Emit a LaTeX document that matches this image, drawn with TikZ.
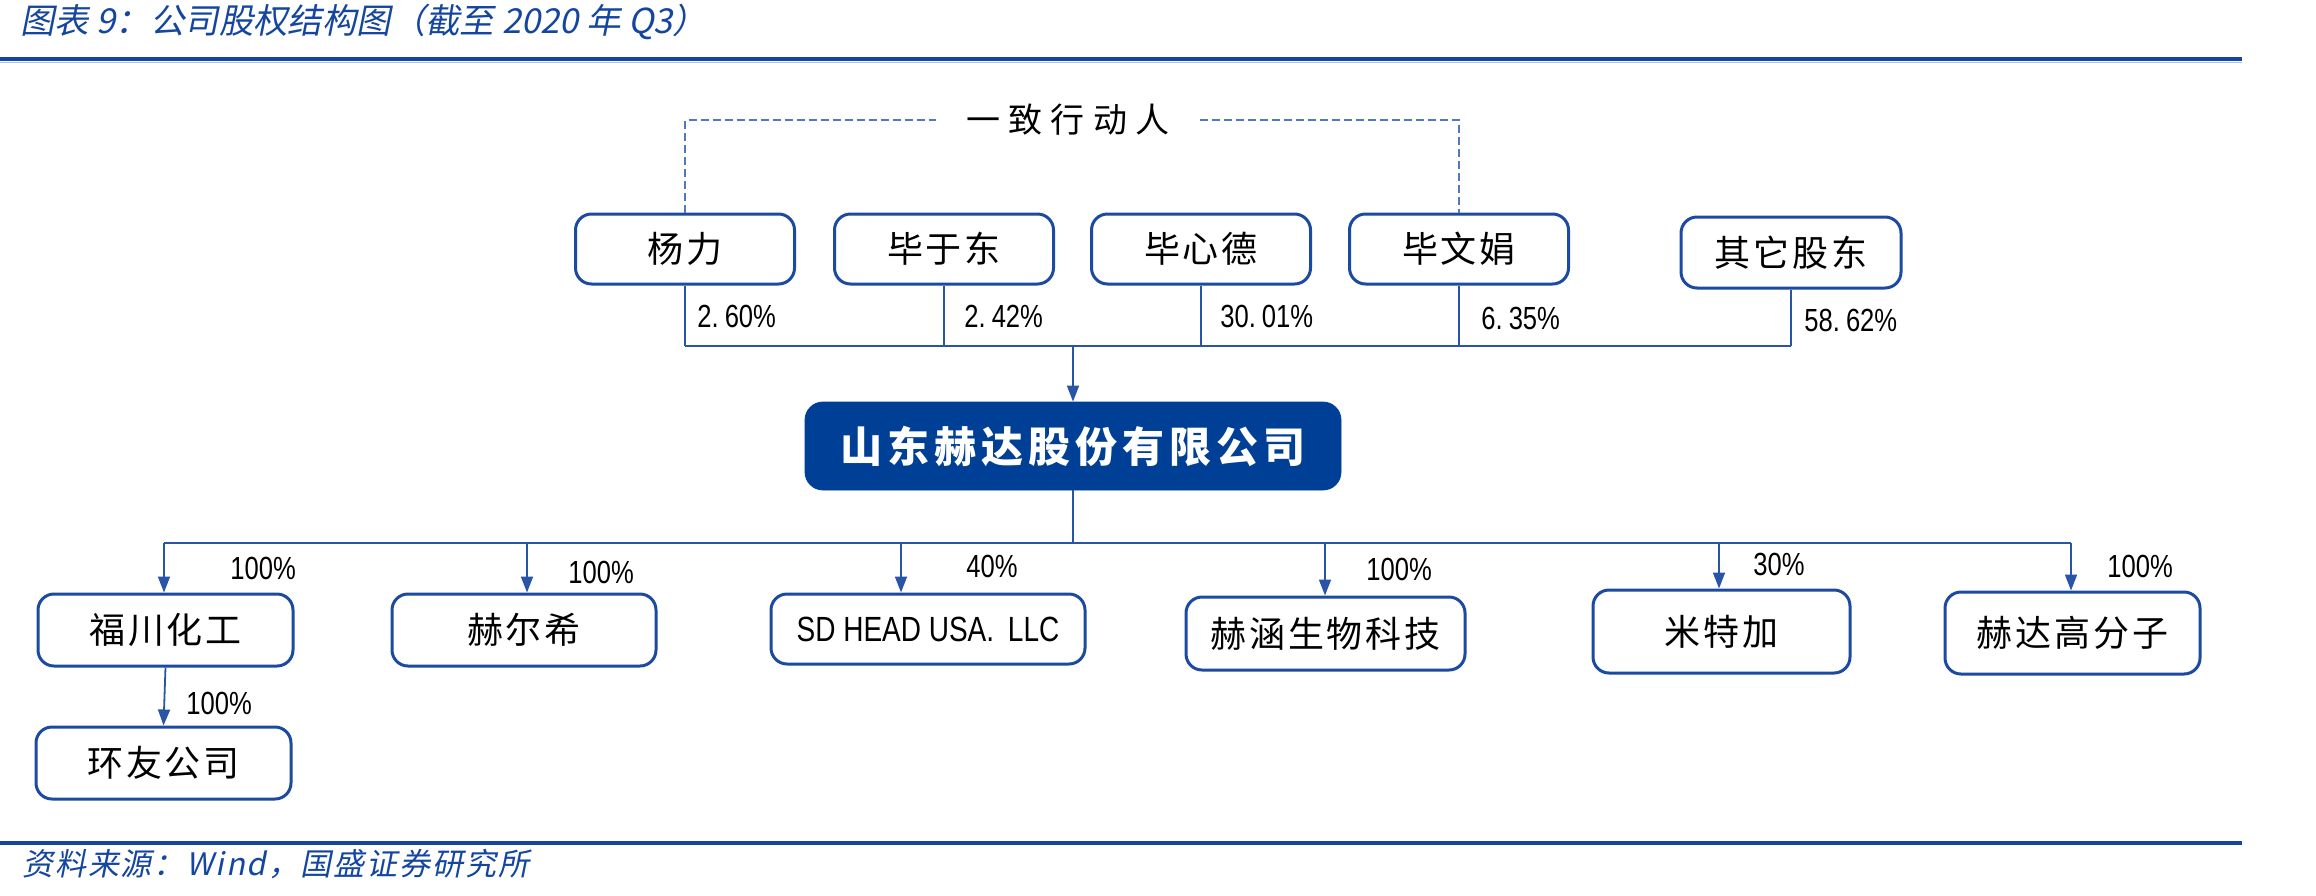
\documentclass[tikz,border=0pt]{standalone}
\usepackage{fontspec}
\setmainfont{Noto Sans CJK SC}
\newfontfamily\cjk[LetterSpace=8]{Noto Sans CJK SC}
\newfontfamily\cjkmain[LetterSpace=12]{Noto Sans CJK SC}
\newfontfamily\cjkgroup[LetterSpace=24]{Noto Sans CJK SC}
\newfontfamily\ttlfont[FakeSlant=0.2]{Noto Sans CJK SC}
\newfontfamily\srcfont[FakeSlant=0.2,LetterSpace=6]{Noto Sans CJK SC}
\newfontfamily\pctfont[FakeStretch=0.8]{Liberation Sans}
\usetikzlibrary{arrows.meta}
\definecolor{hdblue}{RGB}{0,63,150}
\definecolor{bordblue}{RGB}{28,74,160}
\definecolor{lineblue}{RGB}{40,85,165}
\definecolor{dashblue}{RGB}{80,120,195}
\definecolor{ruleblue}{RGB}{20,70,160}
\definecolor{rulelight}{RGB}{170,190,228}
\begin{document}
\begin{tikzpicture}[x=0.5pt,y=-0.5pt,
  box/.style={draw=bordblue, line width=1.5pt, rounded corners=8pt, fill=white,
    inner sep=0pt, align=center, font=\cjk\fontsize{18}{20}\selectfont},
  mainbox/.style={fill=hdblue, draw=hdblue, rounded corners=9pt, inner sep=0pt,
    text=white, font=\cjkmain\bfseries\fontsize{21}{24}\selectfont,
    minimum width=268pt, minimum height=44pt},
  conn/.style={draw=lineblue, line width=0.9pt},
  arr/.style={conn, -{Triangle[length=8pt,width=6pt]}},
  dashline/.style={draw=dashblue, line width=0.9pt, dash pattern=on 4pt off 2pt},
  pct/.style={font=\pctfont\fontsize{16}{18}\selectfont, inner sep=0pt, anchor=west},
  rulemain/.style={draw=ruleblue, line width=2pt},
  rulelite/.style={draw=rulelight, line width=0.6pt}
]
\useasboundingbox (0,0) rectangle (2316,895);

% header and footer
\node[anchor=west, inner sep=0pt, text=ruleblue, font=\ttlfont\fontsize{17.2}{19}\selectfont] (title) at (20,22) {图表 9：公司股权结构图（截至 2020 年 Q3）};
\coordinate (r1a) at (0,59); \coordinate (r1b) at (2242,59);
\coordinate (r1c) at (0,62.5); \coordinate (r1d) at (2242,62.5);
\draw[rulemain] (r1a) -- (r1b);
\draw[rulelite] (r1c) -- (r1d);
\coordinate (r2a) at (0,843); \coordinate (r2b) at (2242,843);
\draw[rulemain] (r2a) -- (r2b);
\node[anchor=west, inner sep=0pt, text=ruleblue, font=\srcfont\fontsize{15.5}{17}\selectfont] (src) at (22,864) {资料来源：Wind，国盛证券研究所};

% shareholders
\node[box, minimum width=109.5pt, minimum height=35pt] (yl) at (685,249) {杨力};
\node[box, minimum width=109.5pt, minimum height=35pt] (byd) at (944,249) {毕于东};
\node[box, minimum width=109.5pt, minimum height=35pt] (bxd) at (1201,249) {毕心德};
\node[box, minimum width=109.5pt, minimum height=35pt] (bwj) at (1459,249) {毕文娟};
\node[box, minimum width=110pt, minimum height=35.5pt] (qt) at (1791,252.5) {其它股东};

% concerted action group
\node[inner sep=0pt, minimum width=131.5pt, font=\cjkgroup\fontsize{17}{20}\selectfont] (grp) at (1068,120) {一致行动人};
\draw[dashline] (yl.north) |- (grp.west);
\draw[dashline] (grp.east) -| (bwj.north);

% main company
\node[mainbox] (main) at (1073,446) {山东赫达股份有限公司};

% upper bus
\coordinate (tbus) at (0,346);
\draw[conn] (yl.south) -- (yl.south |- tbus);
\draw[conn] (byd.south) -- (byd.south |- tbus);
\draw[conn] (bxd.south) -- (bxd.south |- tbus);
\draw[conn] (bwj.south) -- (bwj.south |- tbus);
\draw[conn] (qt.south) -- (qt.south |- tbus);
\draw[conn] (yl.south |- tbus) -- (qt.south |- tbus);
\draw[arr] (main.north |- tbus) -- (main.north);

\node[pct] (p1) at (697,316) {2.\kern3pt 60\%};
\node[pct] (p2) at (964,316) {2.\kern3pt 42\%};
\node[pct] (p3) at (1220,316) {30.\kern3pt 01\%};
\node[pct] (p4) at (1481,318) {6.\kern3pt 35\%};
\node[pct] (p5) at (1804,320) {58.\kern3pt 62\%};

% subsidiaries
\node[box, minimum width=127.5pt, minimum height=36pt] (c1) at (165.5,630) {福川化工};
\node[box, minimum width=132pt, minimum height=36pt] (c2) at (524,630) {赫尔希};
\node[box, minimum width=157pt, minimum height=35pt, font=\pctfont\fontsize{17.5}{19}\selectfont] (c3) at (928,629) {SD HEAD USA.\kern3pt{} LLC};
\node[box, minimum width=139.5pt, minimum height=36.5pt] (c4) at (1325.5,633.5) {赫涵生物科技};
\node[box, minimum width=128.5pt, minimum height=41.5pt] (c5) at (1721.5,631.5) {米特加};
\node[box, minimum width=127.5pt, minimum height=41pt] (c6) at (2072.5,633) {赫达高分子};
\node[box, minimum width=127.5pt, minimum height=36pt] (c7) at (163.5,763) {环友公司};

% lower bus
\coordinate (a1) at (164,543);
\coordinate (a2) at (527,543);
\coordinate (a3) at (901,543);
\coordinate (a4) at (1325,543);
\coordinate (a5) at (1719,543);
\coordinate (a6) at (2071,543);
\draw[conn] (main.south) -- (main.south |- a1);
\draw[conn] (a1) -- (a6);
\draw[arr] (a1) -- (a1 |- c1.north);
\draw[arr] (a2) -- (a2 |- c2.north);
\draw[arr] (a3) -- (a3 |- c3.north);
\draw[arr] (a4) -- (a4 |- c4.north);
\draw[arr] (a5) -- (a5 |- c5.north);
\draw[arr] (a6) -- (a6 |- c6.north);
\draw[arr] (c1.south) -- (c7.north);

\node[pct] (q1) at (230,568) {100\%};
\node[pct] (q2) at (568,572) {100\%};
\node[pct] (q3) at (966,566) {40\%};
\node[pct] (q4) at (1366,569) {100\%};
\node[pct] (q5) at (1753,564) {30\%};
\node[pct] (q6) at (2107,566) {100\%};
\node[pct] (q7) at (186,703) {100\%};
\end{tikzpicture}
\end{document}
